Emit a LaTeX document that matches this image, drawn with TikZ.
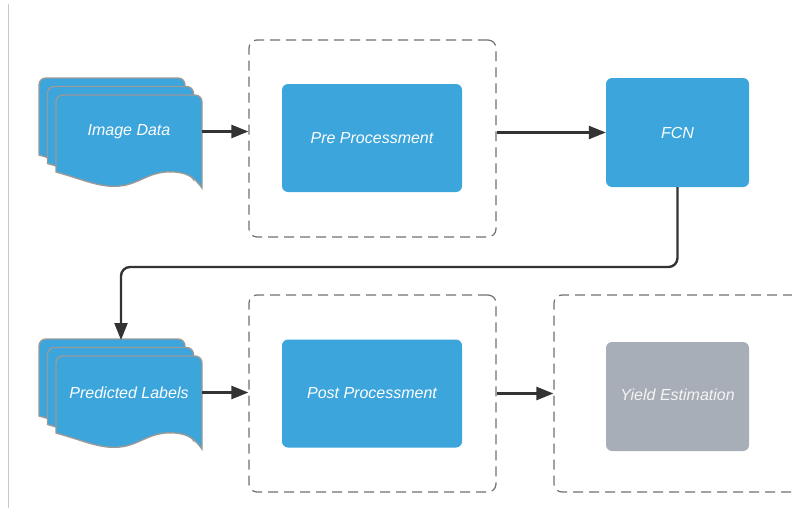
\documentclass[tikz,border=0pt]{standalone}
\usepackage{fontspec}
\setmainfont{Liberation Sans}
\usetikzlibrary{arrows.meta,calc}

\definecolor{boxblue}{HTML}{3BA5DC}
\definecolor{boxgray}{HTML}{A8AEB7}
\definecolor{edgegray}{HTML}{9A9A9A}
\definecolor{dashgray}{HTML}{707070}
\definecolor{linkdark}{HTML}{333333}
\definecolor{faintline}{HTML}{C8C8C8}

\tikzset{
  label text/.style={font=\fontsize{16}{19}\selectfont\itshape, text=white},
  stage/.style={draw=none, fill=boxblue, rounded corners=6pt, label text,
                minimum width=180pt, minimum height=108pt, inner sep=0pt},
  container/.style={draw=dashgray, line width=1.2pt, dash pattern=on 10pt off 6pt,
                    rounded corners=8pt, minimum width=247pt, minimum height=197pt,
                    inner sep=0pt},
  docholder/.style={minimum width=146pt, minimum height=73pt, inner sep=0pt, label text},
  docsheet/.style={fill=boxblue, draw=edgegray, line width=1.4pt},
  link/.style={draw=linkdark, line width=2.4pt,
               -{Triangle[length=17pt,width=13pt]}},
  pics/docpage/.style={code={
    \path[docsheet] (0,77) [rounded corners=7pt] -- (0,0) -- (146,0)
      [sharp corners] -- (146,93)
      .. controls (140,85) and (134,78) .. (119,77)
      .. controls (94,75) and (84,89) .. (64,91)
      .. controls (44,93) and (29,85) .. (0,77) -- cycle;
  }}
}

\begin{document}
\begin{tikzpicture}[x=1pt, y=-1pt]
  \useasboundingbox (0,0) rectangle (792,527);
  \clip (0,0) rectangle (792,527);

  % thin margin rule on the left
  \draw[faintline, line width=1pt] (8,4) -- (8,508);

  % stacked document: image data
  \pic at (39,78) {docpage};
  \pic at (47.5,86.5) {docpage};
  \pic at (56,95) {docpage};
  \node[docholder] (img) at (129,131.5) {Image Data};

  % stacked document: predicted labels
  \pic at (39,339) {docpage};
  \pic at (47.5,347.5) {docpage};
  \pic at (56,356) {docpage};
  \node[docholder] (pred) at (129,392.5) {Predicted Labels};
  \coordinate (predtop) at (121,340);

  % dashed stage containers
  \node[container] (precont)   at (372.5,138.5) {};
  \node[container] (postcont)  at (372.5,393.5) {};
  \node[container] (yieldcont) at (677.5,393.5) {};

  % processing stages
  \node[stage] (pre)  at (372,138) {Pre Processment};
  \node[stage] (post) at (372,393.5) {Post Processment};
  \node[stage, minimum width=143pt, minimum height=109pt] (fcn) at (677.5,132.5) {FCN};
  \node[stage, fill=boxgray, minimum width=143pt, minimum height=109pt]
       (yield) at (677.5,396.5) {};
  \node[label text, text=white!92!gray] (yieldtext) at (677.5,394.5) {Yield Estimation};

  % connectors
  \draw[link] (img.east) -- (img.east -| precont.west);
  \draw[link] (fcn.west -| precont.east) -- (fcn.west);
  \coordinate (turn) at (121,267);
  \draw[link, rounded corners=9pt] (fcn.south) |- (turn) -- (predtop);
  \draw[link] (pred.east) -- (pred.east -| postcont.west);
  \draw[link] (postcont.east) -- (yieldcont.west);
\end{tikzpicture}
\end{document}
